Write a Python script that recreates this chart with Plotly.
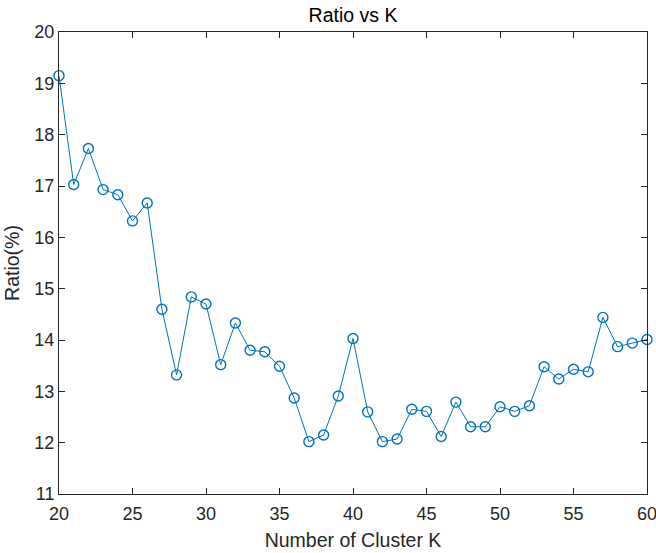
import plotly.graph_objects as go

k_values = list(range(20, 61))
ratio = [19.15, 17.03, 17.73, 16.93, 16.83, 16.32, 16.67, 14.60, 13.32, 14.84,
         14.70, 13.52, 14.33, 13.80, 13.77, 13.49, 12.87, 12.02, 12.15, 12.91,
         14.03, 12.60, 12.02, 12.07, 12.65, 12.61, 12.12, 12.79, 12.31, 12.31,
         12.70, 12.61, 12.72, 13.48, 13.24, 13.43, 13.38, 14.44, 13.87, 13.94,
         14.01]
x_ticks = [20, 25, 30, 35, 40, 45, 50, 55, 60]
y_ticks = [11, 12, 13, 14, 15, 16, 17, 18, 19, 20]

FONT = "Liberation Sans, Arial, Helvetica, sans-serif"

fig = go.Figure(go.Scatter(
    x=k_values, y=ratio, mode="lines+markers",
    line=dict(color="#0072BD", width=1),
    marker=dict(symbol="circle-open", size=10, color="#0072BD", line=dict(width=1.4)),
    cliponaxis=False,
))

axis_common = dict(
    showline=True, linecolor="#262626", linewidth=1, mirror="ticks",
    ticks="inside", ticklen=6, tickcolor="#262626", showgrid=False, zeroline=False,
    automargin=False, ticklabeloverflow="allow",
    tickfont=dict(family=FONT, size=18, color="#262626"),
)

fig.update_layout(
    width=656, height=553,
    margin=dict(l=59, r=9, t=32, b=59),
    plot_bgcolor="white", paper_bgcolor="white",
    showlegend=False,
    title=dict(text="Ratio vs K", x=0.5, xref="paper", xanchor="center",
               y=(553 - 15) / 553, yref="container", yanchor="middle",
               font=dict(family=FONT, size=19.5, color="black")),
    xaxis=dict(range=[20, 60], tickvals=x_ticks, ticklabelstandoff=3,
               title=dict(text="Number of Cluster K", standoff=10,
                          font=dict(family=FONT, size=19.5, color="#262626")),
               **axis_common),
    yaxis=dict(range=[11, 20], tickvals=y_ticks,
               title=dict(text="Ratio(%)", standoff=9,
                          font=dict(family=FONT, size=19.5, color="#262626")),
               **axis_common),
)

fig.write_html("out.html",
               config={"displayModeBar": False, "staticPlot": True},
               post_script="document.body.style.margin='0';document.body.style.overflow='hidden';")
